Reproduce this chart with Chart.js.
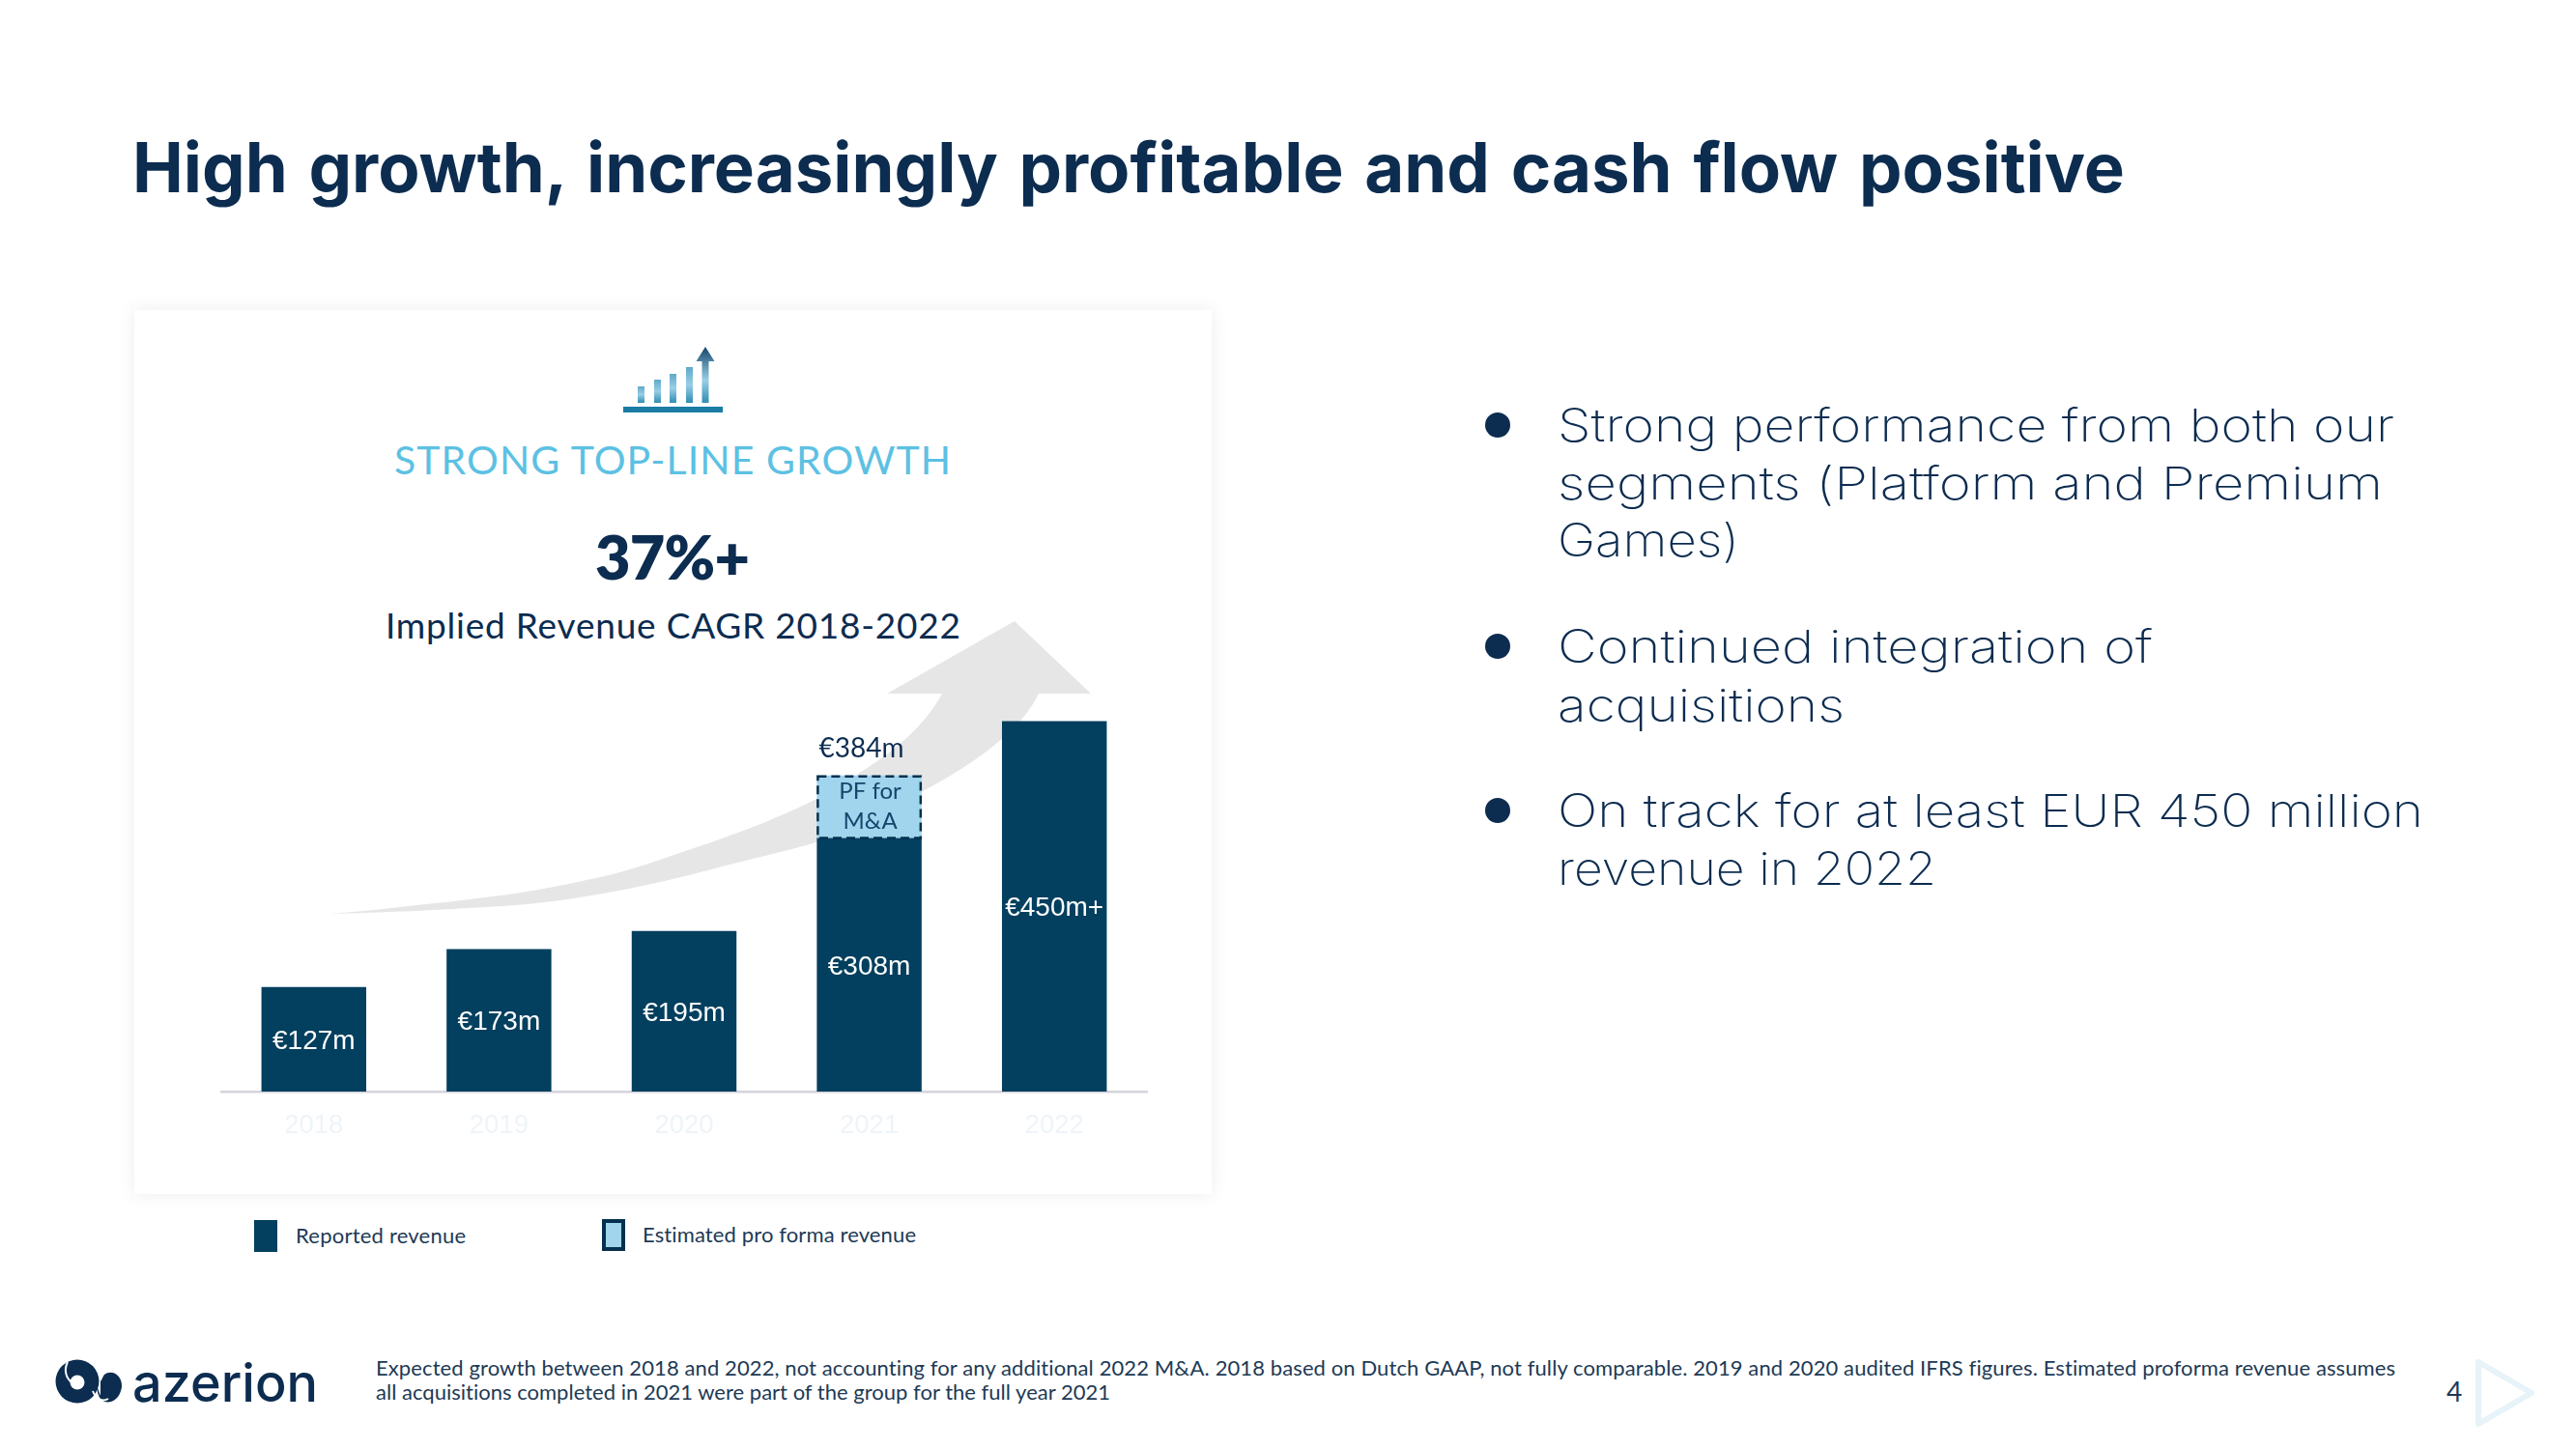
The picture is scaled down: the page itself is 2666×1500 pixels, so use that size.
<!DOCTYPE html>
<html lang="en">
<head>
<meta charset="utf-8">
<title>High growth, increasingly profitable and cash flow positive</title>
<script src="https://cdn.jsdelivr.net/npm/chart.js@4"></script>
<style>
    html, body { margin: 0; padding: 0; background: #fff; }
    #lamina { position: absolute; left: 0; top: 0; width: 2666px; height: 1500px; overflow: hidden; }
    #lamina svg, #lamina canvas { position: absolute; left: 0; top: 0; }
    text { font-variant-ligatures: none; }
    .tit { font-family: Lato, sans-serif; }
    .bul { font-family: Inter, sans-serif; font-weight: 200; fill: #0c2c50; font-size: 47px; }
    .nota { font-family: Lato, sans-serif; font-size: 22px; fill: #1d3a55; }
</style>
</head>
<body>
<div id="lamina">
<svg width="2666" height="1500" viewBox="0 0 2666 1500">
    <defs>
        <linearGradient id="gradBarra" x1="0" y1="0" x2="0" y2="1">
            <stop offset="0" stop-color="#5fa9c9"/>
            <stop offset="0.5" stop-color="#98cfe6"/>
            <stop offset="1" stop-color="#2f8db3"/>
        </linearGradient>
        <linearGradient id="gradFlecha" x1="0" y1="0" x2="0" y2="1">
            <stop offset="0" stop-color="#16466c"/>
            <stop offset="0.6" stop-color="#98cfe6"/>
            <stop offset="1" stop-color="#2f8db3"/>
        </linearGradient>
    </defs>

    <text x="137" y="199" font-family="Inter, sans-serif" font-size="71" font-weight="700" fill="#0c2c50" word-spacing="5" textLength="2062" lengthAdjust="spacingAndGlyphs">High growth, increasingly profitable and cash flow positive</text>

    <!-- tarjeta -->
    <rect x="139" y="321" width="1115" height="915" fill="#fff" style="filter: drop-shadow(0 0 9px rgba(0,0,0,0.07))"/>

    <!-- icono -->
    <rect x="645" y="421" width="103" height="6" fill="#1a7ba5"/>
    <rect x="660" y="400" width="7" height="17" fill="url(#gradBarra)"/>
    <rect x="677" y="393" width="7" height="24" fill="url(#gradBarra)"/>
    <rect x="693" y="387" width="7" height="30" fill="url(#gradBarra)"/>
    <rect x="710" y="380" width="7" height="37" fill="url(#gradBarra)"/>
    <path d="M730 359 L739.5 374 L733.5 374 L733.5 417 L726.5 417 L726.5 374 L720.5 374 Z" fill="url(#gradFlecha)"/>

    <text class="tit" x="408" y="491" font-size="41" fill="#5cc1e3" textLength="576">STRONG TOP-LINE GROWTH</text>
    <text class="tit" x="616" y="600" font-size="63" font-weight="800" fill="#0c2c50" textLength="160">37%+</text>
    <text class="tit" x="399" y="661" font-size="37" fill="#0c2c50" textLength="595">Implied Revenue CAGR 2018-2022</text>

    <!-- flecha gris de fondo -->
    <path d="M340 946 C 400 945 480 941 533 937 C 600 932 680 915 736 900 C 780 888 820 880 844 872 C 880 860 920 838 953 820 C 1020 785 1060 750 1075 718 L1129 718 L1050 643 L918 718 L975 718 C 950 765 900 795 845 827 C 810 845 770 860 736 872 C 700 884 665 897 634 905 C 600 913 565 920 533 925 C 495 930 465 934 431 937 C 400 941 370 944 340 946 Z" fill="#e6e6e6"/>

    <!-- leyenda -->
    <rect x="263" y="1263" width="24" height="33" fill="#033f5e"/>
    <text id="ley0" class="nota" x="306" y="1287" textLength="176"></text>
    <rect x="625" y="1264" width="20" height="29" fill="#a0d5ed" stroke="#04304f" stroke-width="4"/>
    <text id="ley1" class="nota" x="665" y="1286" textLength="283"></text>

    <!-- puntos -->
    <circle cx="1550" cy="440" r="13" fill="#0c2c50"/>
    <circle cx="1550" cy="669" r="13" fill="#0c2c50"/>
    <circle cx="1550" cy="839" r="13" fill="#0c2c50"/>
    <text class="bul" x="1612" y="457" textLength="866" lengthAdjust="spacingAndGlyphs">Strong performance from both our</text>
    <text class="bul" x="1612" y="517" textLength="854" lengthAdjust="spacingAndGlyphs">segments (Platform and Premium</text>
    <text class="bul" x="1612" y="576" textLength="188" lengthAdjust="spacingAndGlyphs">Games)</text>
    <text class="bul" x="1612" y="686" textLength="616" lengthAdjust="spacingAndGlyphs">Continued integration of</text>
    <text class="bul" x="1612" y="747" textLength="297" lengthAdjust="spacingAndGlyphs">acquisitions</text>
    <text class="bul" x="1612" y="856" textLength="896" lengthAdjust="spacingAndGlyphs">On track for at least EUR 450 million</text>
    <text class="bul" x="1612" y="916" textLength="392" lengthAdjust="spacingAndGlyphs">revenue in 2022</text>

    <!-- logo -->
    <circle cx="80" cy="1430" r="22.5" fill="#0c2c50"/>
    <circle cx="80" cy="1431" r="7.5" fill="#fff"/>
    <path d="M70 1410 C 66 1418 68 1426 74 1431" fill="none" stroke="#fff" stroke-width="2"/>
    <path d="M92 1412 C 104 1424 96 1446 108 1451 C 116 1453 124 1448 126 1436 C 127 1424 116 1417 108 1423 C 106 1425 106 1428 104 1430 L 104 1445 Z" fill="#0c2c50"/>
    <path d="M96 1440 C 99 1448 106 1452 112 1448" fill="none" stroke="#fff" stroke-width="2"/>
    <text x="137" y="1451" font-family="Inter, sans-serif" font-size="54" font-weight="500" fill="#0c2c50" textLength="192" lengthAdjust="spacingAndGlyphs">azerion</text>

    <!-- pie -->
    <text class="nota" x="389" y="1424" textLength="2090">Expected growth between 2018 and 2022, not accounting for any additional 2022 M&amp;A. 2018 based on Dutch GAAP, not fully comparable. 2019 and 2020 audited IFRS figures. Estimated proforma revenue assumes</text>
    <text class="nota" x="389" y="1449" textLength="760">all acquisitions completed in 2021 were part of the group for the full year 2021</text>
    <text x="2532" y="1451" font-family="Lato, sans-serif" font-size="28" fill="#1d3a55">4</text>
    <path d="M2565 1410 L2620 1442 L2565 1474 Z" fill="none" stroke="#e6f3f8" stroke-width="6" stroke-linejoin="round"/>
</svg>
<canvas id="graficoIngresos" width="2666" height="1500"></canvas>
</div>

<script>
// datos
const anios = ['2018', '2019', '2020', '2021', '2022'];
const nombresSeries = ['Reported revenue', 'Estimated pro forma revenue'];
const ingresosReportados = [127, 173, 195, 308, 450];
const ingresosProforma = [null, null, null, 76, null];
const etiquetasBarras = ['€127m', '€173m', '€195m', '€308m', '€450m+'];
const etiquetaTotal = '€384m';
const etiquetaProforma = ['PF for', 'M&A'];

document.getElementById('ley0').textContent = nombresSeries[0];
document.getElementById('ley1').textContent = nombresSeries[1];

// Chart.js no tiene borde discontinuo en barras ni etiquetas de datos, asi que van en este plugin
const pluginEtiquetas = {
    id: 'etiquetas',
    afterDatasetsDraw(chart) {
        const ctx = chart.ctx;
        const barras = chart.getDatasetMeta(0).data;
        const proforma = chart.getDatasetMeta(1).data;

        ctx.save();
        ctx.textAlign = 'center';
        ctx.textBaseline = 'middle';

        // etiquetas blancas centradas en cada barra
        ctx.fillStyle = '#ffffff';
        ctx.font = '28px "Liberation Sans"';
        barras.forEach(function (barra, i) {
            ctx.fillText(etiquetasBarras[i], barra.x, (barra.y + barra.base) / 2 + 2);
        });

        // caja pro forma
        ingresosProforma.forEach(function (valor, i) {
            if (valor === null) {
                return;
            }
            const caja = proforma[i];
            const mitad = caja.width / 2;
            ctx.strokeStyle = '#04304f';
            ctx.lineWidth = 2.5;
            ctx.setLineDash([9, 5]);
            ctx.strokeRect(caja.x - mitad + 1, caja.y + 1, caja.width - 2, caja.base - caja.y - 1);
            ctx.setLineDash([]);

            ctx.fillStyle = '#15466b';
            ctx.font = '24px Lato';
            ctx.fillText(etiquetaProforma[0], caja.x + 1, caja.y + 16);
            ctx.fillText(etiquetaProforma[1], caja.x + 1, caja.y + 47);

            ctx.fillStyle = '#0c2c50';
            ctx.font = '28px Lato';
            ctx.fillText(etiquetaTotal, caja.x - 8, caja.y - 28);
        });
        ctx.restore();
    }
};

new Chart(document.getElementById('graficoIngresos'), {
    type: 'bar',
    data: {
        labels: anios,
        datasets: [{
            label: nombresSeries[0],
            data: ingresosReportados,
            backgroundColor: '#033f5e',
            categoryPercentage: 1,
            barPercentage: 0.566
        }, {
            label: nombresSeries[1],
            data: ingresosProforma,
            backgroundColor: '#a0d5ed',
            categoryPercentage: 1,
            barPercentage: 0.566
        }]
    },
    options: {
        responsive: false,
        animation: false,
        devicePixelRatio: 1,
        layout: {
            padding: { left: 229, right: 1479, top: 704, bottom: 310 }
        },
        plugins: {
            legend: { display: false },
            tooltip: { enabled: false }
        },
        scales: {
            x: {
                stacked: true,
                afterFit(escala) { escala.height = 60; },
                grid: { display: false },
                border: { color: '#d4d4dc', width: 2.5 },
                ticks: {
                    color: '#eef4f8',
                    padding: 11,
                    font: { family: 'Liberation Sans', size: 27.5 }
                }
            },
            y: {
                display: false,
                stacked: true,
                min: 0,
                max: 500
            }
        }
    },
    plugins: [pluginEtiquetas]
});
</script>
</body>
</html>
